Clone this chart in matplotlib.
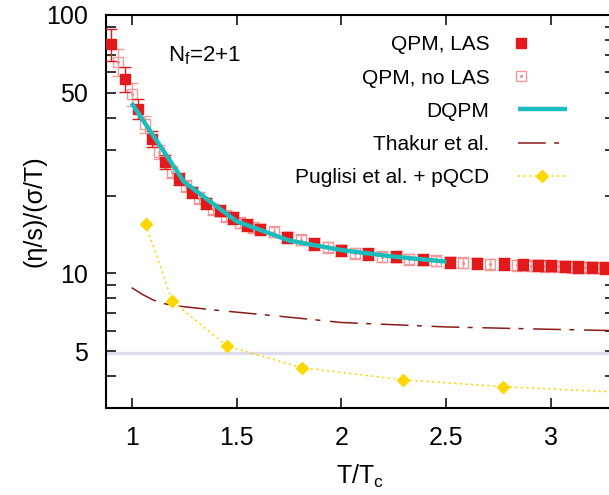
import matplotlib
matplotlib.use("Agg")
import matplotlib.pyplot as plt
from matplotlib.lines import Line2D
from matplotlib.legend_handler import HandlerTuple, HandlerLine2D
from matplotlib.ticker import FixedLocator, FixedFormatter, NullFormatter
import numpy as np

plt.rcParams['font.family'] = ['Liberation Sans', 'DejaVu Sans']
plt.rcParams['mathtext.fontset'] = 'custom'
plt.rcParams['mathtext.rm'] = 'Liberation Sans'
plt.rcParams['mathtext.it'] = 'Liberation Sans:italic'
plt.rcParams['lines.scale_dashes'] = False

################################################################################
# Data (T/Tc on x, (eta/s)/(sigma/T) on y)
################################################################################

# QPM with LAS (filled squares)
las_t = [0.903, 0.968, 1.032, 1.097, 1.161, 1.226, 1.290, 1.355, 1.419, 1.484,
         1.548, 1.613, 1.742, 1.871, 2.000, 2.129, 2.258, 2.387, 2.516, 2.645,
         2.774, 2.865, 2.935, 3.000, 3.065, 3.129, 3.194, 3.258]
las_y = [77.1, 56.5, 43.3, 33.1, 27.0, 23.2, 20.6, 18.7, 17.5, 16.4,
         15.4, 14.8, 13.8, 13.0, 12.3, 11.9, 11.6, 11.3, 11.05, 10.95,
         10.88, 10.8, 10.75, 10.7, 10.65, 10.6, 10.55, 10.5]
las_rel_err = [0.14, 0.11, 0.09, 0.07, 0.06] + [0.05] * 23

# QPM without LAS (open squares)
nolas_t = [0.935, 1.000, 1.065, 1.129, 1.194, 1.258, 1.323, 1.387, 1.452, 1.516,
           1.581, 1.677, 1.806, 1.935, 2.065, 2.194, 2.323, 2.452, 2.581, 2.710,
           2.839, 2.903, 2.968, 3.032, 3.097, 3.161, 3.226]
nolas_y = [65.8, 49.4, 37.8, 29.5, 24.7, 21.8, 19.6, 17.7, 16.7, 15.7,
           15.1, 14.5, 13.5, 12.6, 11.95, 11.6, 11.33, 11.2, 11.0, 10.86,
           10.77, 10.72, 10.68, 10.64, 10.6, 10.56, 10.52]
nolas_rel_err = [0.12, 0.10, 0.08, 0.065] + [0.05] * 23

# DQPM
dqpm_t = [1.0, 1.25, 1.5, 1.75, 2.0, 2.25, 2.5]
dqpm_y = [45.6, 22.6, 15.9, 13.4, 12.3, 11.6, 11.1]

# Thakur et al.
thakur_t = [1.0, 1.05, 1.1, 1.15, 1.2, 1.3, 1.4, 1.6, 1.8, 2.0, 2.5, 3.0, 3.3]
thakur_y = [8.8, 8.3, 7.9, 7.65, 7.5, 7.35, 7.2, 6.95, 6.7, 6.45, 6.2, 6.07, 6.0]

# Puglisi et al. + pQCD
pug_t = [1.067, 1.194, 1.453, 1.810, 2.292, 2.771, 3.4]
pug_y = [15.5, 7.81, 5.24, 4.31, 3.87, 3.64, 3.44]

# reference level
bound_y = 4.9

################################################################################
# Styles
################################################################################
RED = '#e31a1c'
PINK = '#f29a9a'
CYAN = '#1cbcbc'
BROWN = '#8b1a1a'
GOLD = '#ffd700'
THAKUR_DASH = (0, (20, 6, 3.6, 7))
PUG_DOT = (0, (1.6, 2.4))


class LeftMarkerHandler(HandlerLine2D):
    """Legend handler that puts the point symbol near the left end of the sample."""
    def get_xdata(self, legend, xdescent, ydescent, width, height, fontsize):
        m = -xdescent + 0.075 * width
        return np.array([m - 0.5, m + 0.5]), np.array([m])


fig = plt.figure(figsize=(6.09, 4.95), dpi=100)
ax = fig.add_axes([106 / 609, 87 / 495, 509 / 609, 393 / 495])
ax.set_yscale('log')

ax.axhline(bound_y, color='#dcdcee', lw=2.4, zorder=1)

ax.plot(thakur_t, thakur_y, color=BROWN, lw=1.1, ls=THAKUR_DASH, zorder=2)
ax.plot(pug_t, pug_y, color=GOLD, lw=1.1, ls=PUG_DOT, marker='D', ms=6.5,
        mfc=GOLD, mec=GOLD, zorder=2)

nolas_err = np.array(nolas_y) * np.array(nolas_rel_err)
ax.errorbar(nolas_t, nolas_y, yerr=nolas_err, fmt='s', ms=7.5, mfc='none',
            mec=PINK, mew=1.0, ecolor=PINK, elinewidth=1.0, capsize=4.5,
            capthick=1.0, zorder=3)
ax.plot(nolas_t, nolas_y, 's', ms=1.2, color=PINK, zorder=3)

las_err = np.array(las_y) * np.array(las_rel_err)
ax.errorbar(las_t, las_y, yerr=las_err, fmt='s', ms=7.8, color=RED,
            ecolor=RED, elinewidth=1.0, capsize=4.5, capthick=1.0, zorder=4)

ax.plot(dqpm_t, dqpm_y, color=CYAN, lw=3.2, solid_capstyle='butt', zorder=5)

# axes, ticks
ax.set_xlim(0.878, 3.304)
ax.set_ylim(3.01, 100)

ax.xaxis.set_major_locator(FixedLocator([1, 1.5, 2, 2.5, 3]))
ax.xaxis.set_major_formatter(FixedFormatter(['1', '1.5', '2', '2.5', '3']))
ax.xaxis.set_minor_locator(FixedLocator([]))
ax.yaxis.set_major_locator(FixedLocator([5, 10, 50, 100]))
ax.yaxis.set_major_formatter(FixedFormatter(['5', '10', '50', '100']))
ax.yaxis.set_minor_locator(FixedLocator([4, 6, 7, 8, 9, 20, 30, 40, 60, 70, 80, 90]))
ax.yaxis.set_minor_formatter(NullFormatter())

ax.tick_params(which='both', direction='in', top=True, right=True,
               length=7.2, width=1.1, labelsize=18)
ax.tick_params(axis='x', pad=13)
ax.tick_params(axis='y', pad=13)
for s in ax.spines.values():
    s.set_linewidth(1.5)

ax.set_xlabel(r'T/T$_\mathrm{c}$', fontsize=18, labelpad=9)
ax.set_ylabel(r'(η/s)/(σ/T)', fontsize=18, labelpad=0)

ax.text(0.122, 0.882, r'N$_\mathrm{f}$=2+1', transform=ax.transAxes,
        fontsize=16, va='baseline', ha='left')

# legend
h_las = Line2D([], [], ls='none', marker='s', ms=7.8, color=RED)
h_nolas_box = Line2D([], [], ls='none', marker='s', ms=7.5, mfc='none', mec=PINK, mew=1.0)
h_nolas_dot = Line2D([], [], ls='none', marker='s', ms=1.2, color=PINK)
h_dqpm = Line2D([], [], color=CYAN, lw=3.2, solid_capstyle='butt')
h_thakur = Line2D([], [], color=BROWN, lw=1.1, ls=THAKUR_DASH)
h_pug = Line2D([], [], color=GOLD, lw=1.1, ls=PUG_DOT, marker='D', ms=6.5)

leg = ax.legend([h_las, (h_nolas_box, h_nolas_dot), h_dqpm, h_thakur, h_pug],
                ['QPM, LAS', 'QPM, no LAS', 'DQPM', 'Thakur et al.',
                 'Puglisi et al. + pQCD'],
                handler_map={tuple: HandlerTuple(ndivide=1),
                             h_las: LeftMarkerHandler(),
                             h_nolas_box: LeftMarkerHandler(),
                             h_nolas_dot: LeftMarkerHandler()},
                loc='upper right', bbox_to_anchor=(0.905, 0.948),
                frameon=False, markerfirst=False, fontsize=15,
                handlelength=2.35, handletextpad=1.35, labelspacing=0.68,
                borderpad=0, borderaxespad=0, numpoints=1)
for col in leg._legend_handle_box.get_children():
    col.align = 'right'

fig.savefig('out.png', dpi=100)
